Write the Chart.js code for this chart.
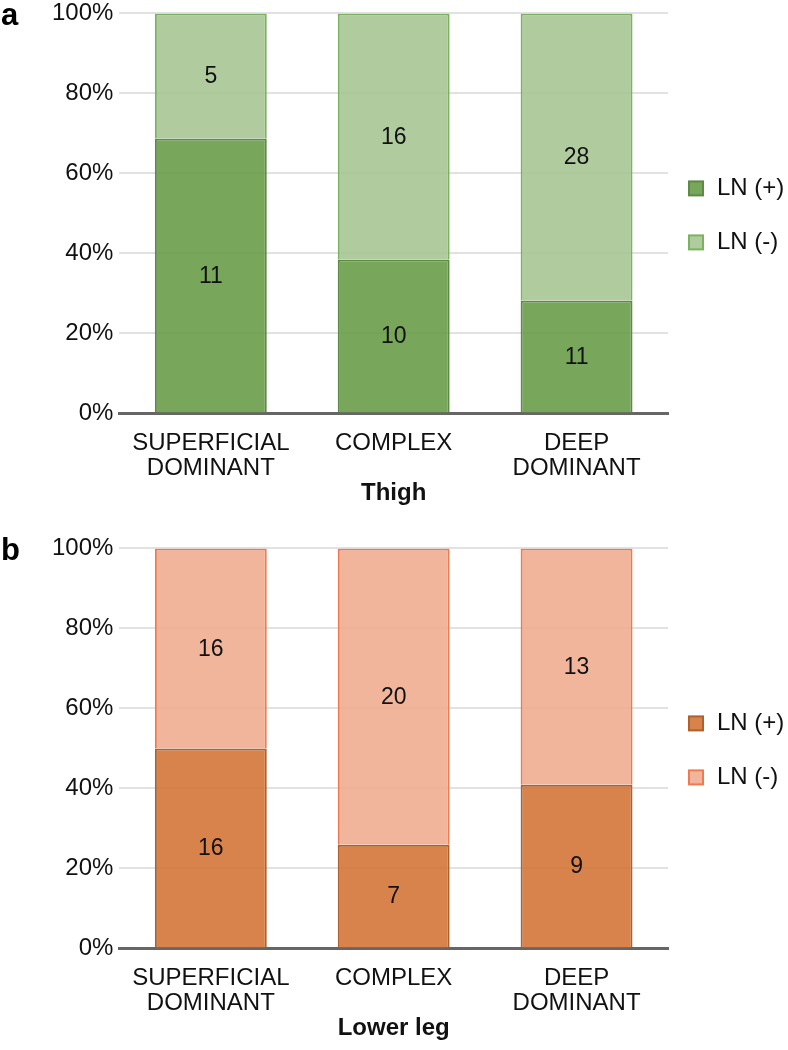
<!DOCTYPE html>
<html>
<head>
<meta charset="utf-8">
<script src="https://cdn.jsdelivr.net/npm/chart.js@4"></script>
<style>
  body { margin: 0; background: #fff; width: 788px; height: 1050px; position: relative; overflow: hidden; }
  .panel { position: absolute; left: 0; width: 788px; height: 515px; }
  .tag { position: absolute; left: 1px; font: bold 31px "Liberation Sans", Arial, sans-serif; color: #000; }
</style>
</head>
<body>
<div class="panel" style="top:-7px"><canvas id="chart-thigh"></canvas></div>
<div class="panel" style="top:528px"><canvas id="chart-leg"></canvas></div>
<div class="tag" style="top:-3px">a</div>
<div class="tag" style="top:532px">b</div>
<script>
const categories = [["SUPERFICIAL", "DOMINANT"], "COMPLEX", ["DEEP", "DOMINANT"]];
const seriesNames = ["LN (+)", "LN (-)"];
const yTicks = [0, 20, 40, 60, 80, 100];

// counts per category
const thighPos = [11, 10, 11];
const thighNeg = [5, 16, 28];
const legPos = [16, 7, 9];
const legNeg = [16, 20, 13];

const FONT = "'Liberation Sans', Arial, sans-serif";

function toPercent(part, other) {
  return part.map((v, i) => (v / (v + other[i])) * 100);
}

const countLabels = {
  id: "countLabels",
  afterDatasetsDraw(chart) {
    const ctx = chart.ctx;
    ctx.save();
    ctx.font = "23px " + FONT;
    ctx.fillStyle = "#111";
    ctx.textAlign = "center";
    ctx.textBaseline = "middle";
    chart.data.datasets.forEach((ds, di) => {
      chart.getDatasetMeta(di).data.forEach((bar, i) => {
        ctx.fillText(String(ds.counts[i]), bar.x, (bar.y + bar.base) / 2 + 1);
      });
    });
    ctx.restore();
  },
};

// legend on the right, centred on the plot area
const sideLegend = {
  id: "sideLegend",
  afterDraw(chart) {
    const ctx = chart.ctx;
    const area = chart.chartArea;
    const n = chart.data.datasets.length;
    const gap = 54;
    const y0 = (area.top + area.bottom) / 2 - ((n - 1) * gap) / 2 + 2;
    ctx.save();
    ctx.font = "24px " + FONT;
    ctx.textBaseline = "middle";
    chart.data.datasets.forEach((ds, i) => {
      const y = y0 + i * gap;
      const x = area.right + 21;
      ctx.fillStyle = ds.backgroundColor;
      ctx.fillRect(x, y - 7, 14, 14);
      ctx.strokeStyle = ds.borderColor;
      ctx.lineWidth = 2;
      ctx.strokeRect(x, y - 7, 14, 14);
      ctx.fillStyle = "#111";
      ctx.fillText(ds.label, x + 28, y);
    });
    ctx.restore();
  },
};

function createGraph(id, title, pos, neg, colors) {
  new Chart(document.getElementById(id), {
    type: "bar",
    data: {
      labels: categories,
      datasets: [
        {
          label: seriesNames[0],
          data: toPercent(pos, neg),
          counts: pos,
          backgroundColor: colors[0],
          borderColor: colors[1],
          borderWidth: 2,
        },
        {
          label: seriesNames[1],
          data: toPercent(neg, pos),
          counts: neg,
          backgroundColor: colors[2],
          borderColor: colors[3],
          borderWidth: 2,
        },
      ],
    },
    options: {
      responsive: true,
      maintainAspectRatio: false,
      animation: false,
      devicePixelRatio: 1,
      layout: { padding: { top: 1, right: 120, left: 46, bottom: 2 } },
      datasets: { bar: { categoryPercentage: 0.8, barPercentage: 0.765 } },
      plugins: {
        legend: { display: false },
        tooltip: { enabled: false },
      },
      scales: {
        x: {
          stacked: true,
          grid: { display: false },
          border: { display: true, color: "#666", width: 3 },
          ticks: { color: "#111", font: { family: FONT, size: 24, lineHeight: 1.05 }, padding: 9, maxRotation: 0 },
          title: { display: true, text: title, color: "#111", font: { family: FONT, size: 24, weight: "bold", lineHeight: 1.05 }, padding: { top: -9, bottom: 0 } },
        },
        y: {
          stacked: true,
          min: 0,
          max: 100,
          afterBuildTicks: (axis) => { axis.ticks = yTicks.map((v) => ({ value: v })); },
          grid: { color: "#e2e2e2", lineWidth: 2, drawTicks: false },
          border: { display: false },
          ticks: { color: "#111", font: { family: FONT, size: 24 }, padding: 6, callback: (v) => v + "%" },
        },
      },
    },
    plugins: [countLabels, sideLegend],
  });
}

createGraph("chart-thigh", "Thigh", thighPos, thighNeg,
  ["rgba(105,156,72,0.9)", "#5d8a45", "rgba(167,199,149,0.9)", "#7ab35f"]);
createGraph("chart-leg", "Lower leg", legPos, legNeg,
  ["rgba(212,118,56,0.9)", "#b0602c", "rgba(240,173,145,0.9)", "#f07a4f"]);
</script>
</body>
</html>
